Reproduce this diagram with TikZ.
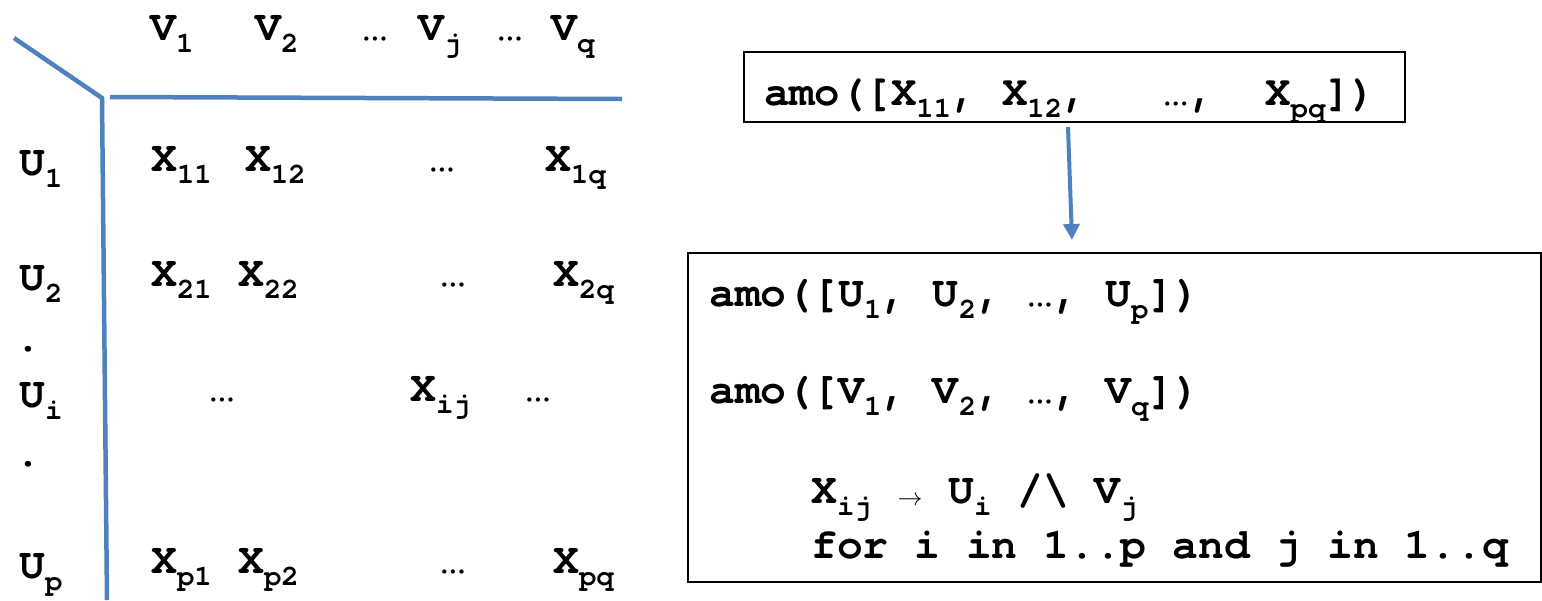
\documentclass[tikz,border=0pt]{standalone}
\usepackage{fontspec}
\setmonofont{TeX Gyre Cursor}
\definecolor{axisblue}{HTML}{4F81BD}
\newcommand\subs[1]{\raisebox{-12pt}{\fontsize{29}{29}\selectfont #1}}
\newcommand\dotsy{{\mdseries …}}
\newcommand\arrowsym{\raisebox{-2pt}{\fontsize{26}{26}\selectfont$\rightarrow$}}
\tikzset{
  lbl/.style={anchor=base west, inner sep=0pt, font=\fontsize{43}{48}\selectfont\ttfamily\bfseries},
  axisline/.style={draw=axisblue, line width=4.5pt},
  frame/.style={draw=black, line width=2pt, inner sep=0pt},
  flow/.style={draw=axisblue, line width=4pt, -{Triangle[length=16pt,width=16pt]}}
}
\usetikzlibrary{arrows.meta}
\begin{document}
\begin{tikzpicture}[x=1pt,y=-1pt]
\useasboundingbox (0,0) rectangle (1542,600);
% axes
\coordinate (diagstart) at (14,38);
\coordinate (corner) at (102,98);
\coordinate (vbottom) at (107,600);
\coordinate (hstart) at (110,97);
\coordinate (hend) at (622,99);
\draw[axisline] (diagstart) -- (corner) -- (vbottom);
\draw[axisline] (hstart) -- (hend);
% header row
\node[lbl] (v1) at (150,40) {V\subs{1}};
\node[lbl] (v2) at (255,40) {V\subs{2}};
\node[lbl] (vd1) at (362,40) {\dotsy};
\node[lbl] (vj) at (418,40) {V\subs{j}};
\node[lbl] (vd2) at (497,40) {\dotsy};
\node[lbl] (vq) at (551,40) {V\subs{q}};
% row labels
\node[lbl] (u1) at (19,175) {U\subs{1}};
\node[lbl] (u2) at (19,290) {U\subs{2}};
\node[lbl] (dota) at (15,351) {.};
\node[lbl] (ui) at (19,407) {U\subs{i}};
\node[lbl] (dotb) at (15,466) {.};
\node[lbl] (up) at (19,578) {U\subs{p}};
% row 1
\node[lbl] (x11) at (151,171) {X\subs{11}};
\node[lbl] (x12) at (245,171) {X\subs{12}};
\node[lbl] (x1d) at (429,171) {\dotsy};
\node[lbl] (x1q) at (545,171) {X\subs{1q}};
% row 2
\node[lbl] (x21) at (151,286) {X\subs{21}};
\node[lbl] (x22) at (238,286) {X\subs{22}};
\node[lbl] (x2d) at (440,286) {\dotsy};
\node[lbl] (x2q) at (553,286) {X\subs{2q}};
% row i
\node[lbl] (xid1) at (209,401) {\dotsy};
\node[lbl] (xij) at (410,401) {X\subs{ij}};
\node[lbl] (xid2) at (525,401) {\dotsy};
% row p
\node[lbl] (xp1) at (151,573) {X\subs{p1}};
\node[lbl] (xp2) at (238,573) {X\subs{p2}};
\node[lbl] (xpd) at (440,573) {\dotsy};
\node[lbl] (xpq) at (553,573) {X\subs{pq}};
% top box
\node[frame, minimum width=661pt, minimum height=70pt] (topbox) at (1074.5,87) {};
\node[lbl, font=\fontsize{42.3}{48}\selectfont\ttfamily\bfseries] (toptext) at (764,105) {amo([X\subs{11}, X\subs{12},~~~\dotsy,~~X\subs{pq}])};
% arrow
\coordinate (arrstart) at (1068,127);
\coordinate (arrend) at (1072,240);
\draw[flow] (arrstart) -- (arrend);
% bottom box
\node[frame, minimum width=853pt, minimum height=329pt] (botbox) at (1114.5,417.5) {};
\node[lbl] (lineu) at (709,306) {amo([U\subs{1}, U\subs{2}, \dotsy, U\subs{p}])};
\node[lbl] (linev) at (709,403) {amo([V\subs{1}, V\subs{2}, \dotsy, V\subs{q}])};
\node[lbl] (linex) at (811,503) {X\subs{ij} \arrowsym{} U\subs{i} /\textbackslash{} V\subs{j}};
\node[lbl] (linefor) at (811,558) {for i in 1..p and j in 1..q};
\end{tikzpicture}
\end{document}
